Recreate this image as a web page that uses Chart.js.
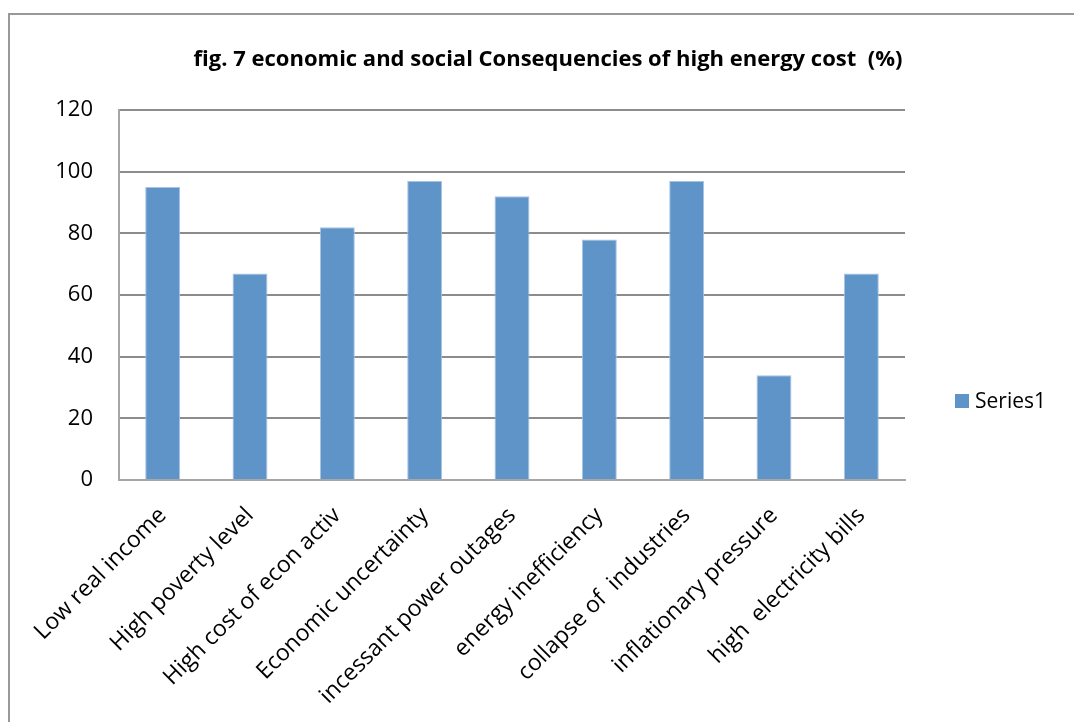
<!DOCTYPE html>
<html>
<head>
<meta charset="utf-8">
<script src="https://cdn.jsdelivr.net/npm/chart.js@4/dist/chart.umd.min.js"></script>
<style>
  html, body { margin: 0; padding: 0; background: #fff; overflow: hidden; }
  #frame { position: absolute; left: 8px; top: 13px; width: 1200px; height: 900px;
           border-top: 2px solid #999; border-left: 2px solid #999; }
  #wrap { position: absolute; left: 0; top: 0; width: 1074px; height: 722px; }
</style>
</head>
<body>
<div id="frame"></div>
<div id="wrap"><canvas id="c" width="1074" height="722"></canvas></div>
<script>
const titleText = "fig. 7 economic and social Consequencies of high energy cost  (%)";
const categories = [
  "Low real income",
  "High poverty level",
  "High cost of econ activ",
  "Economic uncertainty",
  "incessant power outages",
  "energy inefficiency",
  "collapse of  industries",
  "inflationary pressure",
  "high  electricity bills"
];
const seriesName = "Series1";
const seriesValues = [95, 67, 82, 97, 92, 78, 97, 34, 67];
const yTicks = [0, 20, 40, 60, 80, 100, 120];

const FONT = "'Open Sans', 'Liberation Sans', sans-serif";
const barFill = "#5f94c9";
const barEdge = "#a7c3e3";

const legendPlugin = {
  id: 'sideLegend',
  afterDraw(chart) {
    const ctx = chart.ctx;
    const ds = chart.data.datasets[0];
    ctx.save();
    ctx.fillStyle = ds.backgroundColor;
    ctx.fillRect(955, 394, 14, 14);
    ctx.fillStyle = '#000';
    ctx.font = "21px " + FONT;
    ctx.textBaseline = 'middle';
    ctx.textAlign = 'left';
    ctx.fillText(ds.label, 975, 402);
    ctx.restore();
  }
};

new Chart(document.getElementById('c'), {
  type: 'bar',
  data: {
    labels: categories,
    datasets: [{
      label: seriesName,
      data: seriesValues,
      backgroundColor: barFill,
      borderColor: barEdge,
      borderWidth: 1,
      categoryPercentage: 0.4,
      barPercentage: 1.0
    }]
  },
  options: {
    responsive: false,
    animation: false,
    layout: { padding: { left: 22, right: 0, top: 0, bottom: 0 } },
    plugins: {
      legend: { display: false },
      tooltip: { enabled: false },
      title: {
        display: true,
        text: titleText,
        color: '#000',
        font: { family: FONT, size: 22, weight: 'bold', lineHeight: 1.2 },
        padding: { top: 46.8, bottom: 36.8 }
      }
    },
    scales: {
      x: {
        grid: { display: false, drawTicks: false },
        border: { display: true, color: '#a6a6a6', width: 2 },
        ticks: {
          color: '#000',
          font: { family: FONT, size: 23 },
          minRotation: 45,
          maxRotation: 45,
          autoSkip: false,
          padding: 22
        },
        afterFit(scale) { scale.height = 722 - 480; }
      },
      y: {
        min: 0,
        max: 120,
        afterBuildTicks(scale) { scale.ticks = yTicks.map(v => ({ value: v })); },
        grid: { color: '#8c8c8c', lineWidth: 2, drawTicks: false },
        border: { display: true, color: '#a6a6a6', width: 2 },
        ticks: {
          color: '#000',
          font: { family: FONT, size: 22 },
          padding: 26
        },
        afterFit(scale) { scale.width = 119 - 22; }
      },
      yRight: {
        position: 'right',
        display: true,
        grid: { display: false, drawTicks: false },
        border: { display: false },
        ticks: { display: false },
        afterFit(scale) { scale.width = 1074 - 905; }
      }
    }
  },
  plugins: [legendPlugin]
});
</script>
</body>
</html>
